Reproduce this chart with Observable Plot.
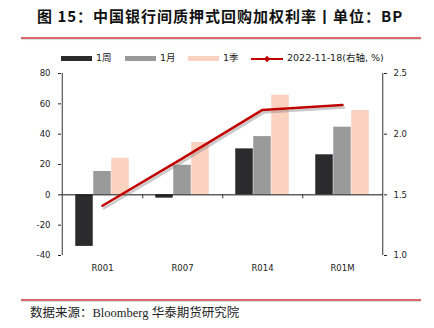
<!DOCTYPE html>
<html>
<head>
<meta charset="utf-8">
<script src="https://cdn.jsdelivr.net/npm/d3@7"></script>
<script src="https://cdn.jsdelivr.net/npm/@observablehq/plot@0.6"></script>
<style>
  html, body { margin: 0; padding: 0; background: #fff; }
  #wrap { position: relative; width: 434px; height: 328px; overflow: hidden; font-family: "DejaVu Sans", "Noto Sans CJK SC", sans-serif; }
  .title { position: absolute; left: 37px; top: 5px; font: bold 15px "Noto Sans CJK SC", sans-serif; letter-spacing: 1px; color: #111; white-space: nowrap; line-height: 22px; }
  .rule { position: absolute; left: 21px; width: 400px; height: 1.5px; background: #d9686b; box-shadow: 0 1px 1px rgba(0,0,0,0.15); }
  .sw { position: absolute; height: 5px; width: 31px; top: 56px; }
  .lt { position: absolute; top: 51px; font-size: 9.5px; line-height: 14px; color: #222; white-space: nowrap; font-family: "DejaVu Sans", "Noto Sans CJK SC", sans-serif; }
  .caption { position: absolute; left: 30px; top: 302px; font-size: 12.5px; color: #222; font-family: "Liberation Serif", "Noto Sans CJK SC", serif; white-space: nowrap; }
  #chart { position: absolute; left: 0; top: 64px; }
</style>
</head>
<body>
<div id="wrap">
  <div class="title">图 15：中国银行间质押式回购加权利率丨单位：BP</div>
  <div class="rule" style="top:37px"></div>
  <div id="legend"></div>
  <div id="chart"></div>
  <div class="rule" style="top:299px"></div>
  <div class="caption">数据来源：Bloomberg 华泰期货研究院</div>
</div>
<script>
const categories = ["R001", "R007", "R014", "R01M"];
const seriesNames = ["1周", "1月", "1季"];
const week = [-34, -2.2, 30.3, 26.4];
const month = [15.4, 19.5, 38.4, 44.6];
const quarter = [24.1, 34.5, 65.7, 55.6];
const lineName = "2022-11-18(右轴, %)";
const rate = [1.41, 1.80, 2.20, 2.24];
const leftTicks = [-40, -20, 0, 20, 40, 60, 80];
const rightTicks = [1.0, 1.5, 2.0, 2.5];
const colors = ["#2b2b2e", "#9a9a9a", "#fbd2bf"];
const lineColor = "#c00000";

// right axis [1.0, 2.5] mapped onto left axis [-40, 80]
const toLeft = r => -40 + (r - 1.0) * 80;
const fromLeft = v => (v + 40) / 80 + 1.0;

const W = 434, H = 216, mL = 61, mR = 51, mT = 9, mB = 25;
const band = (W - mL - mR) / categories.length;
const barW = 18;
const inset = (band - barW) / 2;

const allSeries = [week, month, quarter];
const barMarks = allSeries.map((vals, s) =>
  Plot.barY(categories.map((c, i) => ({cat: c, v: vals[i]})), {
    x: "cat", y: "v", fill: colors[s], dx: (s - 1) * barW,
    insetLeft: inset, insetRight: inset
  })
);
const lineData = categories.map((c, i) => ({cat: c, v: toLeft(rate[i])}));

const chart = Plot.plot({
  width: W, height: H,
  marginLeft: mL, marginRight: mR, marginTop: mT, marginBottom: mB,
  style: {fontFamily: "DejaVu Sans, sans-serif", fontSize: "8.5px", color: "#222", background: "transparent"},
  x: {type: "band", domain: categories, padding: 0, axis: null, label: null},
  y: {domain: [-40, 80], axis: null, label: null},
  marks: [
    ...barMarks,
    Plot.ruleY([0], {stroke: "#111", strokeWidth: 1}),
    Plot.ruleX(categories.slice(0, 3), {x: d => d, y1: 0, y2: -2.6, dx: band / 2, stroke: "#333"}),
    Plot.line(lineData, {x: "cat", y: "v", stroke: "#888", strokeOpacity: 0.45, strokeWidth: 2.5, dx: 1.5, dy: 2.5}),
    Plot.line(lineData, {x: "cat", y: "v", stroke: lineColor, strokeWidth: 2.5}),
    Plot.ruleX([categories[0]], {x: d => d, y1: -40, y2: 80, dx: -band / 2, stroke: "#333"}),
    Plot.ruleX([categories[3]], {x: d => d, y1: -40, y2: 80, dx: band / 2, stroke: "#333"}),
    Plot.axisY({anchor: "left", label: null, ticks: leftTicks, tickSize: 3, tickPadding: 8, tickFormat: d => String(d)}),
    Plot.axisY({anchor: "right", label: null, ticks: rightTicks.map(toLeft), tickSize: 3, tickPadding: 7, tickFormat: d => fromLeft(d).toFixed(1)}),
    Plot.axisX({anchor: "bottom", label: null, tickSize: 0, tickPadding: 9})
  ]
});
document.getElementById("chart").appendChild(chart);

// legend
const legend = document.getElementById("legend");
const swX = [61, 125, 188];
seriesNames.forEach((name, i) => {
  const sw = document.createElement("div");
  sw.className = "sw"; sw.style.left = swX[i] + "px"; sw.style.background = colors[i];
  legend.appendChild(sw);
  const t = document.createElement("div");
  t.className = "lt"; t.style.left = (swX[i] + 35) + "px"; t.textContent = name;
  legend.appendChild(t);
});
const ls = document.createElementNS("http://www.w3.org/2000/svg", "svg");
ls.setAttribute("width", 34); ls.setAttribute("height", 10);
ls.style.position = "absolute"; ls.style.left = "251px"; ls.style.top = "53.5px";
ls.innerHTML = `<line x1="0" y1="5" x2="32" y2="5" stroke="${lineColor}" stroke-width="2"/><path d="M16 1.8 L19.2 5 L16 8.2 L12.8 5 Z" fill="${lineColor}"/>`;
legend.appendChild(ls);
const lt = document.createElement("div");
lt.className = "lt"; lt.style.left = "287px"; lt.textContent = lineName;
legend.appendChild(lt);
</script>
</body>
</html>
